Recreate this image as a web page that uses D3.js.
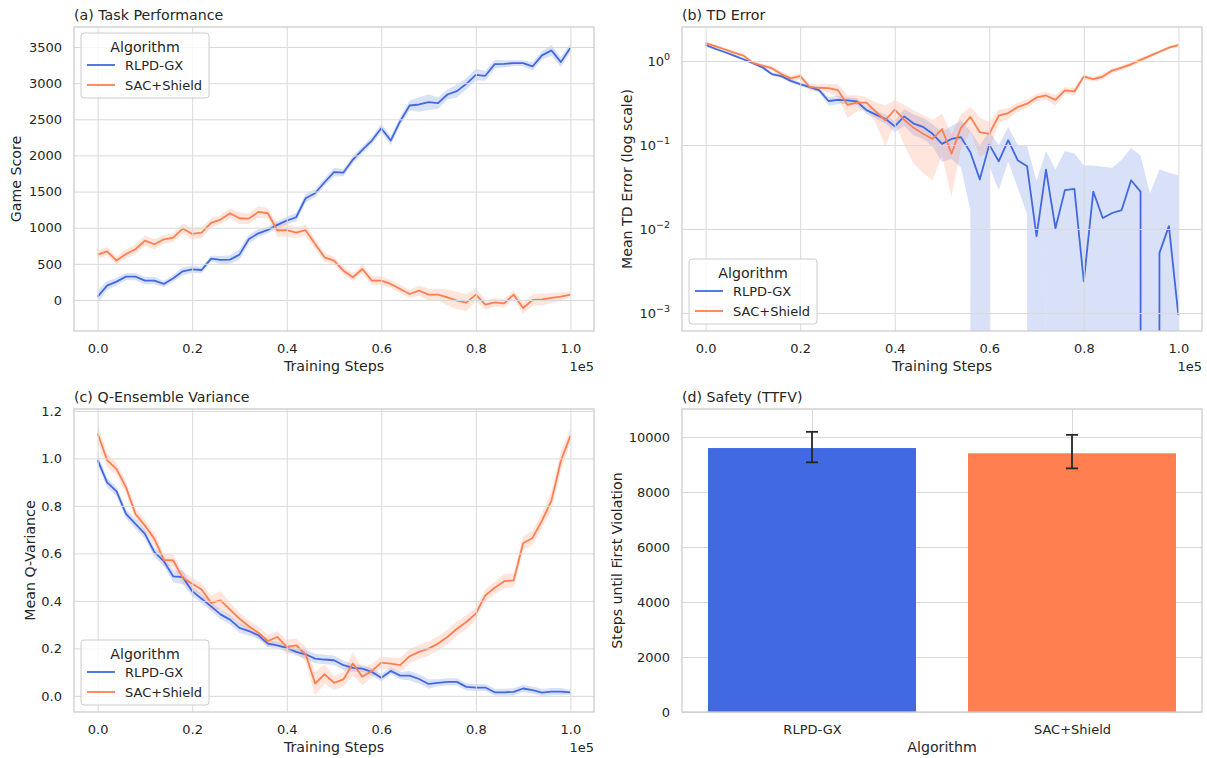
<!DOCTYPE html>
<html>
<head>
<meta charset="utf-8">
<script src="https://cdn.jsdelivr.net/npm/d3@7"></script>
<style>
  body { margin: 0; background: #fff; }
  svg text { font-family: "DejaVu Sans", sans-serif; fill: #262626; }
</style>
</head>
<body>
<script>
var width = 1207,
    height = 758;

// ---- data ----
var algos = ["RLPD-GX", "SAC+Shield"];
var steps = d3.range(0, 100001, 2000);   // 51 evaluation points

// (a) game score, mean and band half-width
var scoreRLPD = [46,198,254,323,323,268,268,222,300,397,425,415,572,554,559,628,845,923,969,1039,
  1099,1145,1408,1477,1629,1768,1763,1943,2077,2206,2377,2206,2474,2691,2705,2737,2723,2843,2890,2991,
  3116,3102,3264,3268,3277,3277,3231,3384,3453,3291,3490];
var scoreRLPDsd = [90,60,55,50,50,55,50,45,45,55,50,45,40,55,60,70,60,55,45,50,
  55,60,60,55,50,60,50,50,50,50,60,60,55,70,100,110,80,70,90,80,
  80,70,60,50,40,40,60,60,75,70,60];
var scoreSAC = [628,674,545,637,702,822,771,840,863,988,914,932,1066,1112,1200,1131,1126,1219,1200,965,
  965,932,965,775,591,545,406,314,429,268,268,222,152,83,129,74,74,37,-9,-37,
  74,-65,-32,-46,74,-111,0,9,28,46,74];
var scoreSACsd = [60,60,55,60,70,70,70,60,60,70,80,75,65,60,70,80,75,80,70,90,
  90,70,80,70,60,55,55,55,60,60,60,55,55,60,70,80,80,110,120,120,
  90,70,60,60,60,80,80,80,70,60,40];

// (b) TD error
var tdRLPD = [1.55,1.40,1.28,1.16,1.05,0.94,0.84,0.70,0.66,0.58,0.53,0.49,0.45,0.334,0.345,0.34,0.33,0.26,0.23,0.205,
  0.167,0.219,0.18,0.164,0.136,0.103,0.118,0.124,0.082,0.039,0.101,0.064,0.114,0.066,0.056,0.0082,0.051,0.0102,0.029,0.030,
  0.00238,0.0279,0.0135,0.0155,0.0168,0.038,0.0279,-0.004,0.0052,0.0108,0.00094];
var tdRLPDsd = [0.06,0.05,0.04,0.04,0.03,0.03,0.03,0.03,0.03,0.03,0.025,0.025,0.025,0.04,0.04,0.03,0.03,0.025,0.025,0.025,
  0.025,0.05,0.05,0.045,0.04,0.04,0.05,0.07,0.065,0.06,0.045,0.035,0.05,0.035,0.041,0.029,0.034,0.041,0.056,0.049,
  0.055,0.029,0.0415,0.038,0.05,0.054,0.047,0.0305,0.046,0.036,0.0427];
var tdSAC = [1.63,1.50,1.38,1.26,1.16,0.95,0.88,0.82,0.70,0.62,0.66,0.49,0.48,0.475,0.45,0.30,0.32,0.32,0.25,0.197,
  0.263,0.20,0.16,0.136,0.118,0.155,0.079,0.160,0.216,0.142,0.136,0.223,0.240,0.283,0.310,0.368,0.389,0.345,0.446,0.434,
  0.653,0.607,0.653,0.769,0.834,0.914,1.03,1.15,1.29,1.44,1.55];
var tdSACsd = [0.08,0.07,0.06,0.06,0.05,0.05,0.05,0.05,0.05,0.05,0.06,0.05,0.05,0.06,0.08,0.09,0.07,0.05,0.07,0.10,
  0.08,0.10,0.10,0.09,0.08,0.08,0.055,0.07,0.07,0.07,0.05,0.04,0.035,0.035,0.035,0.04,0.04,0.05,0.04,0.04,
  0.04,0.04,0.05,0.05,0.05,0.06,0.06,0.06,0.06,0.06,0.06];

// (c) Q-ensemble variance
var qRLPD = [0.993,0.899,0.861,0.766,0.724,0.682,0.605,0.567,0.503,0.500,0.441,0.409,0.377,0.343,0.321,0.286,0.273,0.255,0.220,0.213,
  0.202,0.185,0.175,0.157,0.153,0.150,0.129,0.118,0.115,0.101,0.076,0.105,0.085,0.085,0.071,0.050,0.055,0.059,0.059,0.038,
  0.035,0.035,0.015,0.015,0.017,0.031,0.024,0.014,0.018,0.018,0.015];
var qRLPDsd = [0.025,0.02,0.02,0.02,0.02,0.02,0.02,0.02,0.025,0.03,0.02,0.02,0.02,0.02,0.02,0.02,0.02,0.015,0.015,0.015,
  0.015,0.015,0.02,0.02,0.02,0.02,0.02,0.015,0.015,0.015,0.015,0.015,0.015,0.02,0.02,0.02,0.015,0.015,0.015,0.015,
  0.015,0.015,0.015,0.015,0.015,0.015,0.015,0.015,0.015,0.015,0.01];
var qSAC = [1.105,0.993,0.955,0.878,0.766,0.717,0.661,0.573,0.570,0.497,0.472,0.448,0.392,0.402,0.363,0.325,0.293,0.266,0.231,0.248,
  0.206,0.213,0.175,0.052,0.091,0.055,0.069,0.136,0.080,0.105,0.140,0.136,0.129,0.167,0.185,0.199,0.220,0.248,0.283,0.311,
  0.346,0.423,0.455,0.483,0.486,0.643,0.665,0.738,0.822,0.990,1.095];
var qSACsd = [0.04,0.03,0.025,0.025,0.025,0.025,0.025,0.025,0.025,0.025,0.025,0.025,0.03,0.04,0.03,0.025,0.025,0.025,0.025,0.025,
  0.03,0.03,0.03,0.05,0.04,0.03,0.03,0.05,0.035,0.03,0.025,0.025,0.03,0.03,0.03,0.03,0.03,0.03,0.03,0.03,
  0.025,0.025,0.025,0.03,0.03,0.03,0.03,0.03,0.04,0.04,0.03];

// (d) time to first violation
var ttfvMean = [9600, 9410];
var ttfvLow = [9080, 8860];
var ttfvHigh = [10190, 10080];

// tick values
var stepTicks = [0, 20000, 40000, 60000, 80000, 100000];
var scoreTicks = [0, 500, 1000, 1500, 2000, 2500, 3000, 3500];
var tdTicks = [1e-3, 1e-2, 1e-1, 1];
var tdExp = ["\u22123", "\u22122", "\u22121", "0"];
var qTicks = [0, 0.2, 0.4, 0.6, 0.8, 1.0, 1.2];
var ttfvTicks = [0, 2000, 4000, 6000, 8000, 10000];

var colors = ["#4169E1", "#FF7F50"];
var gridColor = "#d9d9d9",
    edgeColor = "#cccccc";

var svg = d3.select("body").append("svg")
    .attr("width", width)
    .attr("height", height);

var boxes = {
  a: {l: 74, r: 594, t: 27, b: 331},
  b: {l: 682, r: 1202, t: 27, b: 331},
  c: {l: 74, r: 594, t: 409, b: 712},
  d: {l: 682, r: 1202, t: 409, b: 712}
};

var fmtStep = function(d) { return (d / 1e5).toFixed(1); };

// grid + tick labels through d3 axes
function makeAxes(g, box, xs, xt, xf, ys, yt, yf) {
  var gx = g.append("g")
    .attr("transform", "translate(0," + box.b + ")")
    .call(d3.axisBottom(xs).tickValues(xt).tickFormat(xf)
      .tickSize(-(box.b - box.t)).tickPadding(12.5));
  var gy = g.append("g")
    .attr("transform", "translate(" + box.l + ",0)")
    .call(d3.axisLeft(ys).tickValues(yt).tickFormat(yf)
      .tickSize(-(box.r - box.l)).tickPadding(12));
  [gx, gy].forEach(function(a) {
    a.select(".domain").remove();
    a.selectAll(".tick line").attr("stroke", gridColor).attr("stroke-width", 1);
    a.selectAll(".tick text")
      .attr("fill", "#262626")
      .style("font-size", "13px")
      .style("font-family", '"DejaVu Sans", sans-serif');
  });
  return gy;
}

function frame(g, box) {
  g.append("rect")
    .attr("x", box.l).attr("y", box.t)
    .attr("width", box.r - box.l).attr("height", box.b - box.t)
    .attr("fill", "none")
    .attr("stroke", edgeColor)
    .attr("stroke-width", 1.3);
}

function titles(g, box, title, xlabel, ylabel, ylabelX, offsetText) {
  g.append("text")
    .attr("x", box.l).attr("y", box.t - 7)
    .style("font-size", "14.2px")
    .text(title);
  g.append("text")
    .attr("x", (box.l + box.r) / 2).attr("y", box.b + 40)
    .attr("text-anchor", "middle")
    .style("font-size", "14.2px")
    .text(xlabel);
  g.append("text")
    .attr("transform", "translate(" + ylabelX + "," + (box.t + box.b) / 2 + ") rotate(-90)")
    .attr("text-anchor", "middle")
    .attr("dy", "0.35em")
    .style("font-size", "14.2px")
    .text(ylabel);
  if (offsetText) {
    g.append("text")
      .attr("x", box.r).attr("y", box.b + 40)
      .attr("text-anchor", "end")
      .style("font-size", "13px")
      .text(offsetText);
  }
}

function legend(g, x, y) {
  var lg = g.append("g").attr("transform", "translate(" + x + "," + y + ")");
  lg.append("rect")
    .attr("width", 128).attr("height", 65)
    .attr("rx", 3).attr("ry", 3)
    .attr("fill", "rgba(255,255,255,0.8)")
    .attr("stroke", edgeColor)
    .attr("stroke-width", 1);
  lg.append("text")
    .attr("x", 64).attr("y", 19)
    .attr("text-anchor", "middle")
    .style("font-size", "14.2px")
    .text("Algorithm");
  algos.forEach(function(name, i) {
    var yy = 32 + i * 20;
    lg.append("line")
      .attr("x1", 6).attr("x2", 34).attr("y1", yy).attr("y2", yy)
      .attr("stroke", colors[i]).attr("stroke-width", 1.8);
    lg.append("text")
      .attr("x", 44).attr("y", yy + 4.7)
      .style("font-size", "13px")
      .text(name);
  });
}

// line panel with bands
function linePanel(id, box, ys, series, sds, clipLog) {
  var g = svg.append("g");
  var xs = d3.scaleLinear().domain([-5000, 105000]).range([box.l, box.r]);
  g.append("clipPath").attr("id", id)
    .append("rect")
    .attr("x", box.l).attr("y", box.t)
    .attr("width", box.r - box.l).attr("height", box.b - box.t);

  // log axis clips non-positive values like matplotlib does
  var pos = function(v) { return clipLog ? (v > 0 ? v : 1e-300) : v; };

  var plot = g.append("g").attr("clip-path", "url(#" + id + ")");
  var rows = series.map(function(arr, k) {
    return steps.map(function(s, i) { return {s: s, v: arr[i], sd: sds[k][i]}; });
  });

  var area = d3.area()
    .x(function(d) { return xs(d.s); })
    .y0(function(d) { return ys(pos(d.v - d.sd)); })
    .y1(function(d) { return ys(pos(d.v + d.sd)); });
  var line = d3.line()
    .x(function(d) { return xs(d.s); })
    .y(function(d) { return ys(pos(d.v)); });

  return {g: g, xs: xs, draw: function() {
    rows.forEach(function(r, k) {
      plot.append("path").attr("d", area(r))
        .attr("fill", colors[k]).attr("fill-opacity", 0.2).attr("stroke", "none");
    });
    rows.forEach(function(r, k) {
      plot.append("path").attr("d", line(r))
        .attr("fill", "none").attr("stroke", colors[k])
        .attr("stroke-width", 1.8).attr("stroke-linejoin", "round");
    });
    frame(g, box);
  }};
}

// (a) Task Performance
var ya = d3.scaleLinear().domain([-429, 3777]).range([boxes.a.b, boxes.a.t]);
var pa = linePanel("clipA", boxes.a, ya, [scoreRLPD, scoreSAC], [scoreRLPDsd, scoreSACsd], false);
makeAxes(pa.g, boxes.a, pa.xs, stepTicks, fmtStep, ya, scoreTicks, function(d) { return d; });
pa.draw();
titles(pa.g, boxes.a, "(a) Task Performance", "Training Steps", "Game Score", 16, "1e5");
legend(pa.g, 81, 33);

// (b) TD Error, log scale
var yb = d3.scaleLog().domain([6.1e-4, 2.54]).range([boxes.b.b, boxes.b.t]);
var pb = linePanel("clipB", boxes.b, yb, [tdRLPD, tdSAC], [tdRLPDsd, tdSACsd], true);
var gyb = makeAxes(pb.g, boxes.b, pb.xs, stepTicks, fmtStep, yb, tdTicks, function() { return ""; });
gyb.selectAll(".tick text").each(function(d, i) {
  var t = d3.select(this);
  t.append("tspan").text("10");
  t.append("tspan").attr("dy", "-0.55em").style("font-size", "9.5px").text(tdExp[i]);
});
pb.draw();
titles(pb.g, boxes.b, "(b) TD Error", "Training Steps", "Mean TD Error (log scale)", 627, "1e5");
legend(pb.g, 689, 259);

// (c) Q-Ensemble Variance
var yc = d3.scaleLinear().domain([-0.068, 1.208]).range([boxes.c.b, boxes.c.t]);
var pc = linePanel("clipC", boxes.c, yc, [qRLPD, qSAC], [qRLPDsd, qSACsd], false);
makeAxes(pc.g, boxes.c, pc.xs, stepTicks, fmtStep, yc, qTicks, function(d) { return d.toFixed(1); });
pc.draw();
titles(pc.g, boxes.c, "(c) Q-Ensemble Variance", "Training Steps", "Mean Q-Variance", 30, "1e5");
legend(pc.g, 81, 640);

// (d) Safety bars
var gd = svg.append("g");
var xd = d3.scaleLinear().domain([-0.5, 1.5]).range([boxes.d.l, boxes.d.r]);
var yd = d3.scaleLinear().domain([0, 11020]).range([boxes.d.b, boxes.d.t]);
makeAxes(gd, boxes.d, xd, [0, 1], function(i) { return algos[i]; }, yd, ttfvTicks, function(d) { return d; });

gd.selectAll(".bar")
  .data(ttfvMean)
  .enter().append("rect")
  .attr("class", "bar")
  .attr("x", function(d, i) { return xd(i - 0.4); })
  .attr("width", function(d, i) { return xd(i + 0.4) - xd(i - 0.4); })
  .attr("y", function(d) { return yd(d); })
  .attr("height", function(d) { return yd(0) - yd(d); })
  .attr("fill", function(d, i) { return colors[i]; });

var err = gd.selectAll(".err")
  .data(ttfvMean)
  .enter().append("g")
  .attr("class", "err")
  .attr("stroke", "#262626")
  .attr("stroke-width", 1.8);
err.append("line")
  .attr("x1", function(d, i) { return xd(i); })
  .attr("x2", function(d, i) { return xd(i); })
  .attr("y1", function(d, i) { return yd(ttfvLow[i]); })
  .attr("y2", function(d, i) { return yd(ttfvHigh[i]); });
err.append("line")
  .attr("x1", function(d, i) { return xd(i) - 6; })
  .attr("x2", function(d, i) { return xd(i) + 6; })
  .attr("y1", function(d, i) { return yd(ttfvLow[i]); })
  .attr("y2", function(d, i) { return yd(ttfvLow[i]); });
err.append("line")
  .attr("x1", function(d, i) { return xd(i) - 6; })
  .attr("x2", function(d, i) { return xd(i) + 6; })
  .attr("y1", function(d, i) { return yd(ttfvHigh[i]); })
  .attr("y2", function(d, i) { return yd(ttfvHigh[i]); });

frame(gd, boxes.d);
titles(gd, boxes.d, "(d) Safety (TTFV)", "Algorithm", "Steps until First Violation", 617, null);
</script>
</body>
</html>
